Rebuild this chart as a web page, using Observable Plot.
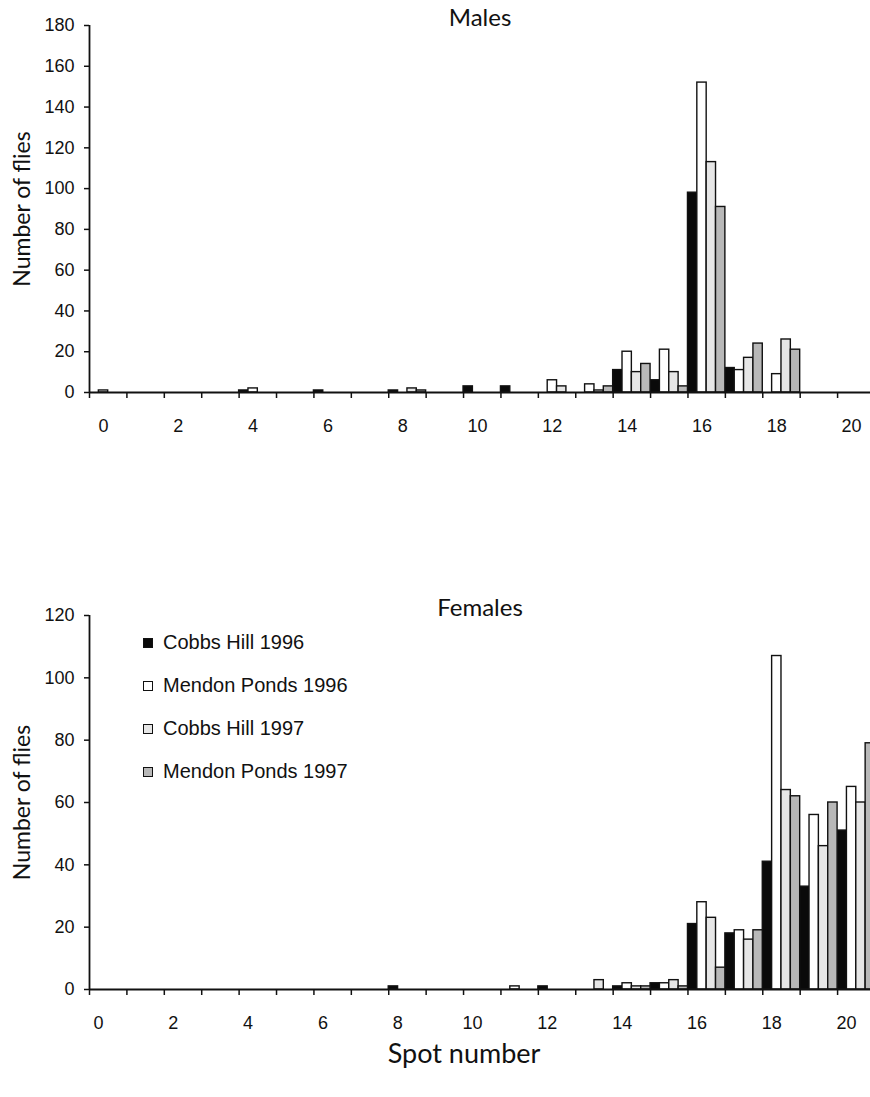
<!DOCTYPE html>
<html>
<head>
<meta charset="utf-8">
<script src="https://cdn.jsdelivr.net/npm/d3@7"></script>
<script src="https://cdn.jsdelivr.net/npm/@observablehq/plot@0.6"></script>
<style>
  html, body { margin: 0; padding: 0; background: white; }
  #wrap { position: relative; width: 870px; height: 1097px; overflow: hidden; }
  #wrap svg { position: absolute; left: 0; overflow: visible; }
  .legend { position: absolute; font-family: "Liberation Sans", Arial, sans-serif; font-size: 20px; color: #111; }
  .legend .row { position: absolute; white-space: nowrap; display: flex; align-items: center; }
  .legend .sw { width: 10px; height: 10px; border: 1.5px solid #111; margin-right: 10px; box-sizing: border-box; }
</style>
</head>
<body>
<div id="wrap"></div>
<script>
// ---- data ----
const spots = d3.range(0, 21);
const seriesNames = ["Cobbs Hill 1996", "Mendon Ponds 1996", "Cobbs Hill 1997", "Mendon Ponds 1997"];
const seriesFills = ["#0a0a0a", "#ffffff", "#e6e6e6", "#b8b8b8"];

const malesCobbs1996  = [0,0,0,0,1,0,1,0,1,0,3,3,0,0,11,6,98,12,0,0,0];
const malesMendon1996 = [1,0,0,0,2,0,0,0,0,0,0,0,6,4,20,21,152,11,9,0,0];
const malesCobbs1997  = [0,0,0,0,0,0,0,0,2,0,0,0,3,1,10,10,113,17,26,0,0];
const malesMendon1997 = [0,0,0,0,0,0,0,0,1,0,0,0,0,3,14,3,91,24,21,0,0];

const femalesCobbs1996  = [0,0,0,0,0,0,0,0,1,0,0,0,1,0,1,2,21,18,41,33,51];
const femalesMendon1996 = [0,0,0,0,0,0,0,0,0,0,0,1,0,0,2,2,28,19,107,56,65];
const femalesCobbs1997  = [0,0,0,0,0,0,0,0,0,0,0,0,0,3,1,3,23,16,64,46,60];
const femalesMendon1997 = [0,0,0,0,0,0,0,0,0,0,0,0,0,0,1,1,7,19,62,60,79];

const xTicksAll = d3.range(0, 21);
const xTickLabels = [0, 2, 4, 6, 8, 10, 12, 14, 16, 18, 20];
const malesYTicks = [0, 20, 40, 60, 80, 100, 120, 140, 160, 180];
const femalesYTicks = [0, 20, 40, 60, 80, 100, 120];

function rows(seriesArrays) {
  const out = [];
  seriesArrays.forEach((arr, i) => {
    arr.forEach((v, k) => {
      if (v > 0) out.push({spot: spots[k], idx: i, series: seriesNames[i], value: v});
    });
  });
  return out;
}

const titleFont = "Lato, 'Open Sans', sans-serif";
const tickFont = "'Liberation Sans', Arial, sans-serif";

function panel({data, yMax, yTicks, title, height, marginTop, marginBottom, labelDx, extra = []}) {
  return Plot.plot({
    width: 870,
    height,
    marginLeft: 89,
    marginRight: 0,
    marginTop,
    marginBottom,
    x: {domain: [0, 20.88], axis: null},
    y: {domain: [0, yMax], axis: null},
    color: {domain: seriesNames, range: seriesFills},
    style: {background: "transparent", fontFamily: tickFont, fontSize: "18px", color: "#111"},
    marks: [
      Plot.rect(data, {
        x1: d => d.spot + d.idx / 4,
        x2: d => d.spot + (d.idx + 1) / 4,
        y1: 0,
        y2: "value",
        fill: "series",
        stroke: "#111",
        strokeWidth: 1.4,
        clip: true
      }),
      Plot.ruleY([0], {stroke: "#111", strokeWidth: 1.8}),
      Plot.ruleX([0], {y1: 0, y2: yMax, stroke: "#111", strokeWidth: 1.8}),
      Plot.axisX({ticks: xTicksAll, tickSize: 6, tickFormat: () => "", label: null, stroke: "#111", strokeWidth: 1.5}),
      Plot.axisX({ticks: xTickLabels, tickSize: 0, tickPadding: 27, dx: labelDx, label: null, fontSize: 18, fill: "#111"}),
      Plot.axisY({ticks: yTicks, tickSize: 5, tickPadding: 10, label: null, fontSize: 18, fill: "#111", stroke: "#111", strokeWidth: 1.5}),
      Plot.text([title], {frameAnchor: "top", dy: -7, lineAnchor: "middle", fontFamily: titleFont, fontSize: 24, fill: "#111"}),
      Plot.text(["Number of flies"], {frameAnchor: "left", dx: -67, rotate: -90, textAnchor: "middle", lineAnchor: "middle", fontFamily: titleFont, fontSize: 23, fill: "#111"}),
      ...extra
    ]
  });
}

const wrap = document.getElementById("wrap");

const males = panel({
  data: rows([malesCobbs1996, malesMendon1996, malesCobbs1997, malesMendon1997]),
  yMax: 180, yTicks: malesYTicks, title: "Males",
  height: 450, marginTop: 25, marginBottom: 58, labelDx: 14
});
males.style.top = "0px";
wrap.appendChild(males);

const females = panel({
  data: rows([femalesCobbs1996, femalesMendon1996, femalesCobbs1997, femalesMendon1997]),
  yMax: 120, yTicks: femalesYTicks, title: "Females",
  height: 484, marginTop: 30, marginBottom: 80, labelDx: 9,
  extra: [Plot.text(["Spot number"], {frameAnchor: "bottom", dy: 65, dx: -16, lineAnchor: "middle", fontFamily: titleFont, fontSize: 27, fill: "#111"})]
});
females.style.top = "585px";
wrap.appendChild(females);

// legend
const legend = document.createElement("div");
legend.className = "legend";
legend.style.left = "0px";
legend.style.top = "0px";
seriesNames.forEach((name, i) => {
  const row = document.createElement("div");
  row.className = "row";
  row.style.left = "143px";
  row.style.top = (631 + i * 43) + "px";
  const sw = document.createElement("div");
  sw.className = "sw";
  sw.style.background = seriesFills[i];
  row.appendChild(sw);
  const t = document.createElement("span");
  t.textContent = name;
  row.appendChild(t);
  legend.appendChild(row);
});
wrap.appendChild(legend);
</script>
</body>
</html>
